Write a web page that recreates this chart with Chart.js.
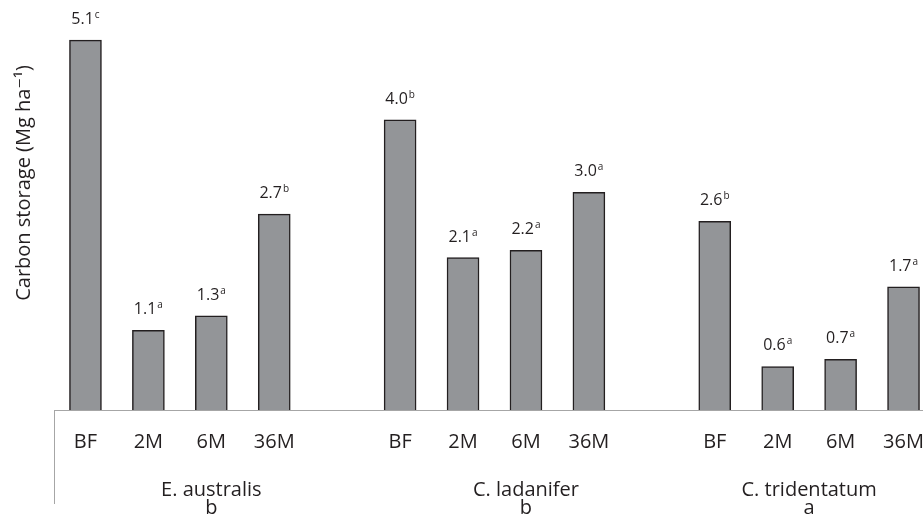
<!DOCTYPE html>
<html>
<head>
<meta charset="utf-8">
<script src="https://cdn.jsdelivr.net/npm/chart.js@4/dist/chart.umd.min.js"></script>
<style>
  html, body { margin: 0; padding: 0; background: #fff; overflow: hidden; }
  #wrap { position: relative; width: 923px; height: 519px; overflow: hidden; }
  #chart { position: absolute; left: 0; top: -44px; }
</style>
</head>
<body>
<div id="wrap"><canvas id="chart" width="935" height="563"></canvas></div>
<script>
// slots: 4 sampling times per species, one empty slot between species
const timeLabels = ['BF', '2M', '6M', '36M', '', 'BF', '2M', '6M', '36M', '', 'BF', '2M', '6M', '36M'];
const carbonValues = [5.1, 1.1, 1.3, 2.7, null, 4.0, 2.1, 2.2, 3.0, null, 2.6, 0.6, 0.7, 1.7];
const valueLetters = ['c', 'a', 'a', 'b', '', 'b', 'a', 'a', 'a', '', 'b', 'a', 'a', 'a'];

const speciesNames = ['E. australis', 'C. ladanifer', 'C. tridentatum'];
const speciesLetters = ['b', 'b', 'a'];
const speciesSlots = [[0, 4], [5, 9], [10, 13]];

const textColor = '#231f20';
const fontFamily = '"Open Sans", "DejaVu Sans", sans-serif';

const labelsPlugin = {
    id: 'labelsPlugin',
    afterDatasetsDraw(chart) {
        const ctx = chart.ctx;
        const meta = chart.getDatasetMeta(0);
        ctx.save();
        ctx.fillStyle = textColor;
        ctx.textBaseline = 'alphabetic';
        meta.data.forEach((bar, i) => {
            const v = carbonValues[i];
            if (v === null) return;
            const main = v.toFixed(1);
            const sup = valueLetters[i];
            ctx.font = '16px ' + fontFamily;
            const w1 = ctx.measureText(main).width;
            ctx.font = '10px ' + fontFamily;
            const w2 = ctx.measureText(sup).width;
            const x0 = bar.x - (w1 + w2 + 1) / 2;
            const y0 = bar.y - 16;
            ctx.textAlign = 'left';
            ctx.font = '16px ' + fontFamily;
            ctx.fillText(main, x0, y0);
            ctx.font = '10px ' + fontFamily;
            ctx.fillText(sup, x0 + w1 + 1, y0 - 6);
        });
        ctx.restore();
    },
    afterDraw(chart) {
        const ctx = chart.ctx;
        const xs = chart.scales.x;
        const area = chart.chartArea;
        ctx.save();
        // left divider of the category axis
        ctx.strokeStyle = '#a6a6a6';
        ctx.lineWidth = 1;
        ctx.beginPath();
        ctx.moveTo(area.left + 0.5, area.bottom);
        ctx.lineTo(area.left + 0.5, area.bottom + 94);
        ctx.stroke();
        // species names under the time labels
        ctx.fillStyle = textColor;
        ctx.textAlign = 'center';
        ctx.textBaseline = 'middle';
        ctx.font = '20px ' + fontFamily;
        speciesNames.forEach((name, i) => {
            const [a, b] = speciesSlots[i];
            const cx = (xs.getPixelForValue(a) + xs.getPixelForValue(b)) / 2;
            ctx.fillText(name, cx, area.bottom + 80);
            ctx.fillText(speciesLetters[i], cx, area.bottom + 98);
        });
        ctx.restore();
    }
};

new Chart(document.getElementById('chart'), {
    type: 'bar',
    data: {
        labels: timeLabels,
        datasets: [{
            data: carbonValues,
            backgroundColor: '#939598',
            borderColor: '#231f20',
            borderWidth: 1.5,
            barThickness: 32
        }]
    },
    options: {
        responsive: false,
        animation: false,
        layout: { padding: 0 },
        plugins: {
            legend: { display: false },
            tooltip: { enabled: false }
        },
        scales: {
            x: {
                grid: { display: false, drawTicks: true, tickLength: 18 },
                border: { display: true, color: '#a6a6a6', width: 1 },
                ticks: {
                    color: textColor,
                    padding: 2,
                    maxRotation: 0,
                    autoSkip: false,
                    font: { family: fontFamily, size: 20 }
                },
                afterFit(scale) { scale.height = 109; }
            },
            y: {
                min: 0,
                max: 6.26,
                grid: { display: false, drawTicks: false },
                border: { display: false },
                ticks: { display: false },
                title: {
                    display: true,
                    text: 'Carbon storage (Mg ha\u207B\u00B9)',
                    color: textColor,
                    padding: { top: 12, bottom: 4 },
                    font: { family: fontFamily, size: 20 }
                },
                afterFit(scale) { scale.width = 54; }
            }
        }
    },
    plugins: [labelsPlugin]
});
</script>
</body>
</html>
